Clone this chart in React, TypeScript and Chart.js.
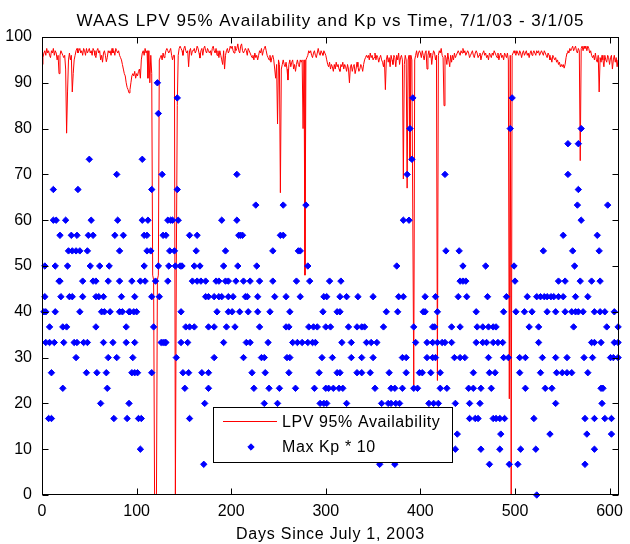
import React, { useEffect, useRef } from "react";
import { Chart, registerables } from "chart.js";

Chart.register(...registerables);

const FONT = '"Liberation Sans", Arial, sans-serif';

const TITLE = "WAAS LPV 95% Availability and Kp vs Time, 7/1/03 - 3/1/05";
const X_LABEL = "Days Since July 1, 2003";
const LEGEND_LINE = "LPV 95% Availability";
const LEGEND_KP = "Max Kp * 10";

const X_MAX = 610;
const xTicks = [0, 100, 200, 300, 400, 500, 600];
const yTicks = [0, 10, 20, 30, 40, 50, 60, 70, 80, 90, 100];

// LPV 95% availability, one value per day (day 0 .. 610)
const availability = [
  94, 95.5, 96.5, 97, 96, 97.5, 96.5, 97, 96, 95.5, 97, 96.5, 97.5, 96, 97, 96.5, 95, 96, 92, 96,
  97, 96.5, 96, 95.5, 96, 93, 79, 88, 95, 96.5, 95, 96, 88, 92, 95, 96, 97, 97.5, 96.5, 97,
  97.5, 96.5, 97, 96, 97.5, 97, 96, 97.5, 96.5, 97, 97.5, 96.5, 97, 96, 97.5, 97, 96, 95.5, 97, 97.5,
  96.5, 97, 95, 96, 94.5, 96.5, 97, 96, 94.6, 95.5, 97, 96.5, 97, 96, 97.5, 96.5, 97, 96, 97.5, 97,
  96.5, 97, 96, 95.5, 95, 94, 93, 92, 91.5, 90, 89, 88.5, 87.8, 88.5, 90, 91.5, 92, 91.5, 92.5, 91,
  92, 91.5, 92.5, 93, 91, 95, 96.5, 97, 96, 97.5, 96.5, 97, 91, 97, 90, 96, 92, 48, 47, 0,
  0, 0, 47, 48, 95, 95.5, 96, 95, 96.5, 95.5, 96, 97, 97.5, 97, 96.5, 97, 97.5, 96, 95, 96,
  96, 0, 50, 85, 96, 97.5, 98, 97.5, 97, 96, 97.5, 98, 97, 96.5, 97, 93.5, 97, 97.5, 96, 97,
  97, 97.5, 96.5, 97, 98, 97.5, 96.5, 95.4, 97, 97.5, 96, 97.5, 98, 97, 96.5, 97.5, 97, 96.5, 97, 96,
  97.5, 98, 97, 96.5, 97.5, 96, 97, 95.5, 97, 96, 95, 94, 97, 93, 96, 97, 97.5, 96.5, 97, 98,
  97.5, 98, 97, 96.5, 98, 97, 97.5, 98.5, 97, 96.5, 98, 98.5, 97, 96.5, 97, 97.5, 97, 96, 97.5, 97,
  96.5, 96, 95.5, 96, 95, 96.5, 95.5, 96, 95, 96, 97, 96.5, 97.5, 96, 97, 97.5, 98, 97, 96, 95.5,
  95, 96, 94.5, 95.5, 96, 95, 93, 91, 94, 81, 95, 94, 66, 93, 94, 95, 94, 93.5, 94.5, 93,
  90.6, 94, 95, 93.5, 94.5, 95, 93, 94, 92.5, 94, 95, 94, 93.5, 95, 94.5, 95, 80, 95, 48, 95,
  95.5, 96, 97, 96.5, 97, 96, 95.5, 96.5, 97, 96, 95.5, 96.5, 97.5, 96.5, 96, 97, 96.5, 96, 97, 96.5,
  96, 95, 94, 93.5, 94.5, 93, 94, 93.5, 92.5, 94, 93, 94.5, 93.5, 94, 93, 92.5, 94, 93.5, 94.5, 93,
  94, 93.5, 92.5, 94, 93, 90, 93.5, 94, 92.5, 93.5, 94, 92, 93, 94.5, 93.5, 92.5, 93, 94, 93.5, 92.5,
  94, 95, 95.5, 96, 95.5, 96, 95, 96.5, 95.5, 96, 95, 95.5, 96.5, 95, 96, 95.5, 94.5, 95.5, 96, 95,
  94.5, 93.5, 95, 88.5, 95, 96, 94.5, 95.5, 93.5, 96, 95, 94, 96, 95.5, 93.5, 96, 95, 96.5, 94, 95.5,
  96, 95, 69, 94, 96, 95, 67, 95, 96, 73, 96, 95, 60, 24, 95, 96, 97, 95.5, 96.5, 97,
  96.5, 95.5, 97, 96, 95, 96.5, 97, 93, 96, 97, 95.5, 96.5, 94, 96, 97, 96.5, 95, 96, 25, 96,
  97, 96.5, 97.5, 96, 95.5, 85, 96, 95.5, 94, 96.5, 95, 93.5, 96, 94.5, 96, 95, 96.5, 95.5, 96, 96.5,
  97, 96.5, 96, 97, 96.5, 97.5, 96.5, 97, 96, 96.5, 97, 96.5, 95.5, 96, 96.5, 97, 96, 95.5, 96.5, 97,
  96.5, 95.5, 96, 96.5, 95, 96, 96.5, 97, 96, 96.5, 95.5, 96, 95, 96.5, 96, 95.5, 96.5, 96, 97, 96.5,
  96, 95.5, 96.5, 95, 96, 96.5, 95.5, 96, 95, 96.5, 96, 95.5, 96.5, 95, 21, 96, 0, 96, 96.5, 97,
  96.5, 96, 97, 96.5, 96, 97, 96.5, 95.5, 96.5, 97, 96, 96.5, 97, 96, 96.5, 95.5, 96.5, 97, 96, 96.5,
  97, 96.5, 96, 97, 96.5, 97, 96, 96.5, 97, 96.5, 96, 97, 96.5, 96, 95.5, 96.5, 96, 95, 95.5, 94.5,
  96, 95.5, 95, 95.5, 94.5, 95, 94, 94.5, 93.5, 94, 93.5, 94, 93.2, 94, 95.5, 96.5, 97, 96.5, 97.5, 97,
  97.5, 98, 97, 97.5, 98, 97, 96.5, 97.5, 97, 73, 97.5, 98, 97, 98, 97.5, 98, 97, 98, 97.5, 96.5,
  97, 96, 95.5, 96, 95, 96.5, 95, 94.5, 96, 88, 95.5, 94.5, 96, 95, 93.5, 96, 95, 94.5, 96, 95.5,
  94, 95.5, 96, 93, 95, 96, 94.5, 95.5, 93.5, 95, 94.5,
];

// Max Kp * 10 levels and the days on which each level was observed
const kpLevels = [
  90, 86.7, 83.3, 80, 76.7, 73.3, 70, 66.7, 63.3, 60, 56.7, 53.3, 50, 46.7, 43.3, 40, 36.7,
  33.3, 30, 26.7, 23.3, 20, 16.7, 13.3, 10, 6.7, 0,
];
const kpDaysByLevel = [
  [122],
  [143, 392, 497],
  [123],
  [389, 495, 570],
  [556, 567],
  [50, 106, 391],
  [79, 127, 206, 386, 426, 556],
  [12, 38, 116, 143, 567],
  [226, 255, 279, 566, 598],
  [12, 15, 25, 52, 80, 106, 112, 133, 136, 138, 144, 190, 206, 382, 388, 570],
  [19, 31, 37, 49, 54, 77, 86, 108, 111, 128, 131, 156, 164, 208, 210, 212, 252, 255, 551, 587],
  [28, 32, 36, 40, 48, 82, 111, 115, 135, 140, 163, 194, 244, 271, 273, 427, 441, 530, 561, 589],
  [3, 14, 27, 51, 61, 71, 108, 123, 134, 141, 146, 148, 161, 167, 192, 207, 227, 281, 375, 445, 469, 499, 563],
  [18, 19, 43, 54, 57, 70, 82, 95, 104, 109, 120, 133, 159, 164, 168, 173, 184, 187, 194, 197, 205, 213, 220,
    230, 244, 269, 283, 304, 316, 442, 445, 448, 500, 546, 553, 569, 581, 590],
  [3, 20, 29, 32, 43, 57, 60, 65, 84, 98, 116, 124, 173, 176, 182, 187, 190, 197, 202, 215, 217, 228, 246, 258,
    273, 298, 301, 315, 322, 334, 350, 377, 382, 405, 416, 440, 449, 471, 491, 513, 523, 527, 531, 534, 538,
    541, 546, 551, 564, 577],
  [2, 4, 14, 40, 63, 66, 72, 82, 85, 92, 93, 97, 100, 147, 185, 197, 201, 209, 218, 228, 241, 262, 297, 312,
    315, 364, 376, 403, 405, 418, 459, 488, 501, 510, 518, 534, 543, 553, 560, 564, 567, 572, 584, 590, 595, 605],
  [8, 22, 26, 57, 89, 118, 152, 156, 161, 176, 182, 195, 204, 230, 258, 261, 282, 287, 291, 300, 305, 324, 333,
    338, 341, 361, 393, 413, 415, 433, 442, 460, 466, 472, 477, 480, 515, 525, 562, 597, 609],
  [4, 8, 13, 23, 34, 37, 44, 48, 65, 75, 89, 98, 126, 128, 130, 131, 147, 154, 192, 216, 220, 239, 265, 270,
    275, 281, 286, 289, 317, 327, 343, 348, 354, 395, 407, 413, 418, 423, 426, 433, 459, 466, 470, 477, 482,
    487, 525, 581, 584, 591, 605, 609],
  [36, 70, 79, 96, 142, 182, 213, 232, 235, 259, 262, 296, 307, 327, 338, 350, 381, 385, 407, 413, 416, 436,
    442, 447, 472, 488, 493, 505, 511, 529, 543, 555, 573, 582, 601, 604, 609],
  [10, 47, 58, 68, 95, 98, 101, 116, 149, 155, 169, 176, 222, 236, 261, 293, 312, 315, 333, 338, 347, 367, 385,
    399, 402, 411, 421, 456, 473, 479, 505, 527, 544, 550, 555, 560, 577],
  [22, 69, 151, 176, 224, 240, 251, 268, 288, 300, 303, 308, 314, 318, 352, 369, 373, 381, 393, 397, 421, 428,
    451, 456, 464, 475, 511, 532, 539, 591, 593],
  [62, 92, 172, 235, 249, 294, 298, 301, 322, 359, 366, 369, 374, 378, 409, 414, 419, 437, 452, 463, 543, 592],
  [7, 10, 76, 90, 102, 105, 156, 452, 458, 461, 477, 480, 484, 489, 520, 574, 584, 595, 602],
  [430, 439, 485, 537, 576, 602],
  [104, 430, 437, 464, 484, 506, 522, 584],
  [171, 357, 373, 473, 494, 503, 574],
  [523],
];

const RED = "rgb(255,0,0)";
const BLUE = "rgb(0,0,255)";

function drawDiamond(ctx: CanvasRenderingContext2D, x: number, y: number, r: number) {
  ctx.beginPath();
  ctx.moveTo(x - r, y);
  ctx.lineTo(x, y - r);
  ctx.lineTo(x + r, y);
  ctx.lineTo(x, y + r);
  ctx.closePath();
  ctx.fill();
  ctx.stroke();
}

const decorPlugin = {
  id: "decor",
  afterDraw(chart: any) {
    const ctx: CanvasRenderingContext2D = chart.ctx;
    const { left, right, top, bottom } = chart.chartArea;
    const xs = chart.scales.x;
    const ys = chart.scales.y;
    ctx.save();
    // frame
    ctx.strokeStyle = "#000";
    ctx.lineWidth = 1;
    const L = Math.round(left) + 0.5;
    const R = Math.round(right) - 0.5;
    const T = Math.round(top) + 0.5;
    const B = Math.round(bottom) - 0.5;
    ctx.strokeRect(L, T, R - L, B - T);
    // inward ticks on all four sides
    const TL = 6;
    ctx.beginPath();
    xTicks.forEach((v) => {
      const px = Math.round(xs.getPixelForValue(v)) + 0.5;
      ctx.moveTo(px, B);
      ctx.lineTo(px, B - TL);
      ctx.moveTo(px, T);
      ctx.lineTo(px, T + TL);
    });
    yTicks.forEach((v) => {
      const py = Math.round(ys.getPixelForValue(v)) + 0.5;
      ctx.moveTo(L, py);
      ctx.lineTo(L + TL, py);
      ctx.moveTo(R, py);
      ctx.lineTo(R - TL, py);
    });
    ctx.stroke();

    // title
    ctx.fillStyle = "#000";
    ctx.textAlign = "center";
    ctx.textBaseline = "alphabetic";
    ctx.font = `17px ${FONT}`;
    (ctx as any).letterSpacing = "1px";
    ctx.fillText(TITLE, (left + right) / 2, 26);
    // x axis label
    ctx.font = `16px ${FONT}`;
    (ctx as any).letterSpacing = "0.75px";
    ctx.fillText(X_LABEL, (left + right) / 2, 539);

    // legend
    const bx = 213, by = 407, bw = 239, bh = 55;
    ctx.fillStyle = "#fff";
    ctx.fillRect(bx, by, bw, bh);
    ctx.strokeStyle = "#000";
    ctx.strokeRect(bx + 0.5, by + 0.5, bw, bh);
    ctx.strokeStyle = RED;
    ctx.beginPath();
    ctx.moveTo(223, 421.5);
    ctx.lineTo(277, 421.5);
    ctx.stroke();
    ctx.fillStyle = BLUE;
    ctx.strokeStyle = BLUE;
    drawDiamond(ctx, 251, 447, 3.2);
    ctx.fillStyle = "#000";
    ctx.textAlign = "left";
    (ctx as any).letterSpacing = "0.6px";
    ctx.fillText(LEGEND_LINE, 282, 427);
    ctx.fillText(LEGEND_KP, 282, 452);
    ctx.restore();
  },
};

export default function App() {
  const ref = useRef<HTMLCanvasElement>(null);
  useEffect(() => {
    document.body.style.margin = "0";
    const canvas = ref.current!;
    const lineData = availability.map((v, day) => ({ x: day, y: v }));
    const kpData = kpLevels.flatMap((lvl, i) => kpDaysByLevel[i].map((d) => ({ x: d, y: lvl })));
    const tickFont = { family: FONT, size: 16 };
    const chart = new Chart(canvas, {
      type: "scatter",
      data: {
        datasets: [
          {
            type: "line",
            label: LEGEND_LINE,
            data: lineData,
            borderColor: RED,
            backgroundColor: RED,
            borderWidth: 1,
            pointRadius: 0,
            fill: false,
            tension: 0,
            order: 2,
          } as any,
          {
            type: "scatter",
            label: LEGEND_KP,
            data: kpData,
            pointStyle: "rectRot",
            pointRadius: 3.2,
            backgroundColor: BLUE,
            borderColor: BLUE,
            borderWidth: 1,
            clip: false,
            order: 1,
          } as any,
        ],
      },
      options: {
        responsive: false,
        animation: false,
        devicePixelRatio: 1,
        events: [],
        layout: { padding: { top: 37, right: 4, left: 0, bottom: 0 } },
        plugins: {
          legend: { display: false },
          title: { display: false },
          tooltip: { enabled: false },
        },
        scales: {
          x: {
            type: "linear",
            min: 0,
            max: X_MAX,
            afterBuildTicks: (s: any) => {
              s.ticks = xTicks.map((v) => ({ value: v }));
            },
            afterFit: (s: any) => {
              s.height = 49;
            },
            grid: { display: false, drawTicks: false },
            border: { display: false },
            ticks: { color: "#000", font: tickFont, padding: 7, maxRotation: 0, autoSkip: false },
          },
          y: {
            type: "linear",
            min: 0,
            max: 100,
            afterBuildTicks: (s: any) => {
              s.ticks = yTicks.map((v) => ({ value: v }));
            },
            afterFit: (s: any) => {
              s.width = 42;
            },
            grid: { display: false, drawTicks: false },
            border: { display: false },
            ticks: { color: "#000", font: tickFont, padding: 10, autoSkip: false },
          },
        },
      } as any,
      plugins: [decorPlugin],
    });
    return () => chart.destroy();
  }, []);
  return (
    <div style={{ width: 630, height: 544 }}>
      <canvas ref={ref} width={630} height={544} style={{ display: "block" }} />
    </div>
  );
}
